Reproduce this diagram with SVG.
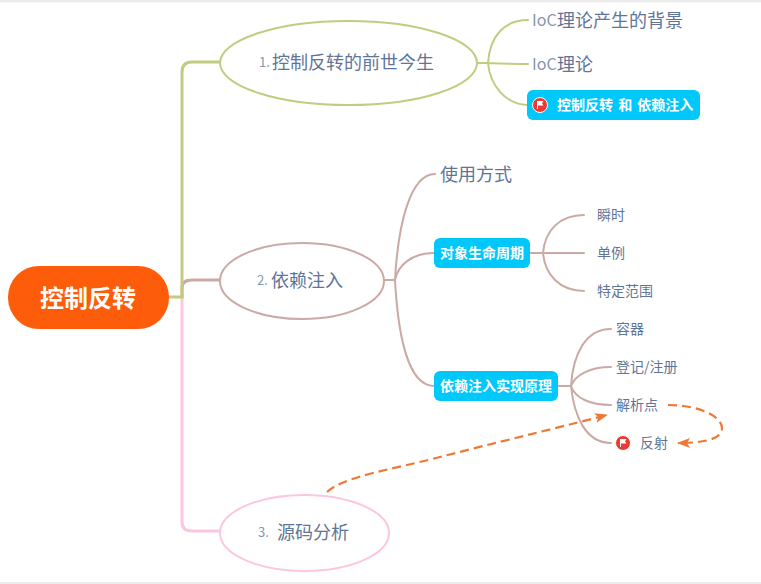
<svg xmlns="http://www.w3.org/2000/svg" width="761" height="584" viewBox="0 0 761 584">
<style>
text{font-family:"Noto Sans CJK SC","Liberation Sans",sans-serif;fill:#5f7597;dominant-baseline:central}
.t18{font-size:18px}.t14{font-size:14px}
.s{font-size:13px;fill:#8496b2}
.i{font-size:16px;fill:#8496b2}
.w{fill:#fff;font-weight:700;font-size:14px}
.n{fill:#fff;stroke-width:2}
.b{fill:#00c8fb}
.l{fill:none;stroke-width:2;stroke-linecap:round}
.m{stroke-width:3}
.g{stroke:#c3cb80}.r{stroke:#cba9a4}.p{stroke:#fdc6e0}
.d{fill:none;stroke:#ee7936;stroke-width:2.2;stroke-dasharray:9 5}
.flag{fill:#ea3a32;stroke:#fff;stroke-width:1}
</style>
<defs>
<marker id="arr" markerWidth="14" markerHeight="12" refX="12" refY="5" orient="auto" markerUnits="userSpaceOnUse"><path d="M0 0L13 5L0 10L3 5Z" fill="#ee7936"/></marker>
<g id="fl"><circle r="7.5" class="flag"/><path d="M-3 4V-4H3.5L2 -1.5L3.5 0.5H-2V4Z" fill="#fff"/></g>
</defs>
<rect width="761" height="584" fill="#fff"/>
<rect width="761" height="2.5" fill="#ececec"/>
<rect y="582" width="761" height="2" fill="#ececec"/>
<g id="connectors">
<path class="l m p" d="M182 297V522Q182 531 192 531H220"/>
<path class="l m r" d="M182 297V288Q182 280 192 280H220"/>
<path class="l m g" d="M169 297H182V72Q182 62 192 62H220"/>
<path class="l g" d="M477 63H488M488 63C490 35 505 20 528 20M488 63Q510 64 528 64M488 63C490 85 505 104 527 105"/>
<path class="l r" d="M384 280H395M395 280C398 225 410 174 435 174M395 280C398 265 412 253 434 253M395 280C398 335 408 386 434 386"/>
<path class="l r" d="M530 253H543M543 253C545 230 560 215 584 215M543 253H584M543 253C545 275 560 291 584 291"/>
<path class="l r" d="M558 386H571M571 386C573 355 585 329 611 329M571 386C575 375 590 367 611 367M571 386C575 398 590 405 611 405M571 386C574 415 585 443 611 443"/>
<path class="d" marker-end="url(#arr)" d="M327 492C345 476 390 470 440 457C490 444 545 431 607 415"/>
<path class="d" marker-end="url(#arr)" d="M668 405C700 405 722 417 722 428C722 439 705 443 678 443"/>
</g>
<g id="root"><rect x="8" y="266" width="161" height="63" rx="31" fill="#fd5d0a"/><text x="88" y="296" text-anchor="middle" style="fill:#fff;font-weight:700;font-size:24px">控制反转</text></g>
<g id="n1"><ellipse class="n g" cx="348.500" cy="63" rx="128.500" ry="42"/><text x="259" y="61" class="t18"><tspan class="s">1.</tspan><tspan x="272">控制反转的前世今生</tspan></text></g>
<g id="n2"><ellipse class="n r" cx="302" cy="281" rx="82" ry="38"/><text x="257" y="279" class="t18"><tspan class="s">2.</tspan><tspan x="271">依赖注入</tspan></text></g>
<g id="n3"><ellipse class="n p" cx="304.500" cy="533" rx="84.500" ry="38"/><text x="258" y="531" class="t18"><tspan class="s">3.</tspan><tspan x="277">源码分析</tspan></text></g>
<g id="n1a"><text x="532" y="19" class="t18"><tspan class="i">IoC</tspan><tspan x="557">理论产生的背景</tspan></text></g>
<g id="n1b"><text x="532" y="63" class="t18"><tspan class="i">IoC</tspan><tspan x="557">理论</tspan></text></g>
<g id="n1c"><rect x="527" y="90" width="173" height="30" rx="6" class="b"/><use href="#fl" x="540" y="105"/><text x="557" y="104" class="w" style="word-spacing:2px">控制反转 和 依赖注入</text></g>
<g id="n2a"><text x="440" y="173" class="t18">使用方式</text></g>
<g id="n2b"><rect x="434" y="238" width="96" height="30" rx="6" class="b"/><text x="482" y="252" class="w" text-anchor="middle">对象生命周期</text></g>
<g id="n2c"><rect x="434" y="371" width="124" height="30" rx="6" class="b"/><text x="496" y="385" class="w" text-anchor="middle">依赖注入实现原理</text></g>
<g id="l1"><text x="597" y="214" class="t14">瞬时</text></g>
<g id="l2"><text x="597" y="252" class="t14">单例</text></g>
<g id="l3"><text x="597" y="290" class="t14">特定范围</text></g>
<g id="m1"><text x="616" y="328" class="t14">容器</text></g>
<g id="m2"><text x="616" y="366" class="t14">登记/注册</text></g>
<g id="m3"><text x="616" y="404" class="t14">解析点</text></g>
<g id="m4"><use href="#fl" x="623" y="443"/><text x="640" y="442" class="t14">反射</text></g>
</svg>
